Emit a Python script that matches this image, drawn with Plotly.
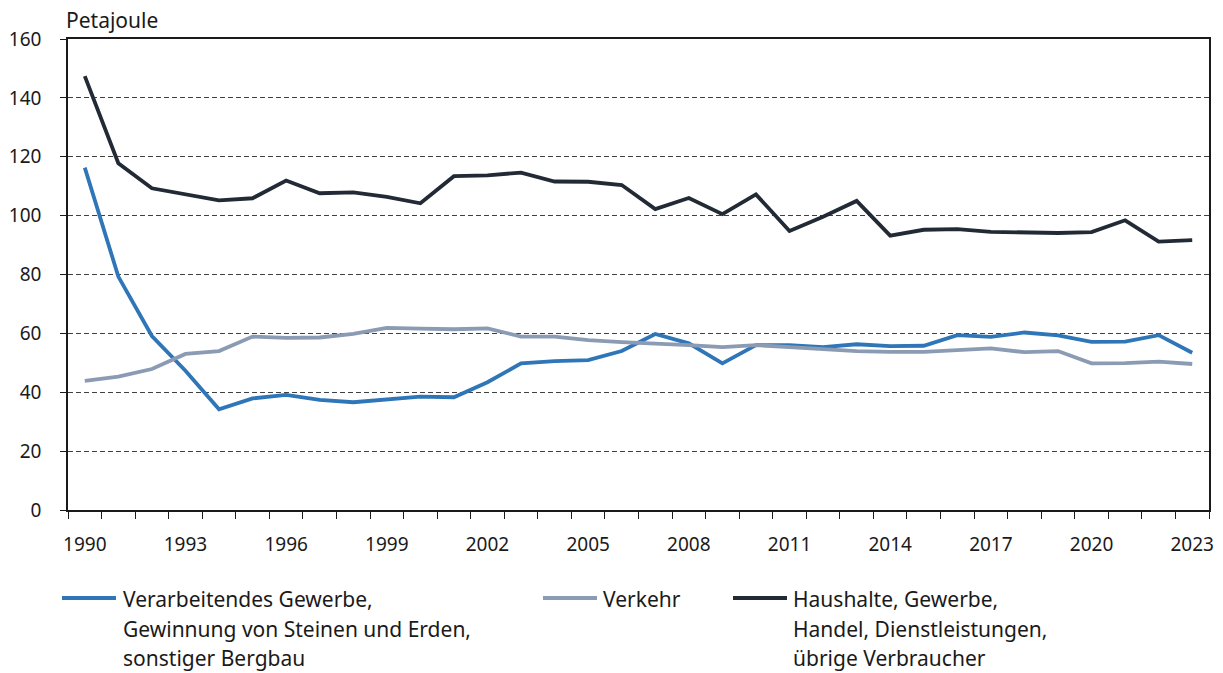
import plotly.graph_objects as go

years = list(range(1990, 2024))

verarbeitendes = [116.3, 79.3, 59.1, 47.3, 34.2, 37.9, 39.1, 37.4, 36.6, 37.6,
                  38.5, 38.3, 43.4, 49.8, 50.6, 50.9, 54.0, 59.8, 56.6, 49.8,
                  56.0, 56.0, 55.3, 56.3, 55.7, 55.8, 59.4, 58.8, 60.3, 59.3,
                  57.1, 57.2, 59.4, 53.4]
verkehr = [43.9, 45.3, 47.9, 53.0, 54.0, 58.9, 58.5, 58.6, 59.8, 61.9,
           61.6, 61.4, 61.7, 58.9, 58.9, 57.7, 57.0, 56.6, 56.0, 55.3,
           56.0, 55.3, 54.6, 54.0, 53.7, 53.7, 54.3, 54.9, 53.6, 54.0,
           49.8, 49.9, 50.4, 49.6]
haushalte = [147.4, 117.8, 109.3, 107.2, 105.2, 105.9, 111.9, 107.6, 107.9, 106.4,
             104.2, 113.4, 113.7, 114.6, 111.6, 111.5, 110.4, 102.2, 106.0, 100.5,
             107.2, 94.8, 99.6, 105.0, 93.2, 95.2, 95.4, 94.5, 94.2, 94.1,
             94.4, 98.4, 91.2, 91.7]

tick_years = list(range(1990, 2024, 3))
y_ticks = [0, 20, 40, 60, 80, 100, 120, 140, 160]

series = [
    ("Verarbeitendes Gewerbe,<br>Gewinnung von Steinen und Erden,<br>sonstiger Bergbau", verarbeitendes, "#2f76b8"),
    ("Verkehr", verkehr, "#8a9bb3"),
    ("Haushalte, Gewerbe,<br>Handel, Dienstleistungen,<br>übrige Verbraucher", haushalte, "#222a35"),
]

FONT = "Noto Sans"
FS = 19      # tick labels
FL = 21      # legend / unit label
TXT = "#1a1a1a"

OFF = 8  # page body margin
W, H = 1223 - OFF, 673 - OFF
ML, MR, MT, MB = 68 - OFF, 14, 39 - OFF, 163
PW, PH = W - ML - MR, H - MT - MB

fig = go.Figure()
for name, vals, col in series:
    fig.add_trace(go.Scatter(x=years, y=vals, mode="lines", name=name,
                             line=dict(color=col, width=3.8), showlegend=False))

def px2paper(px, py):
    # screen pixel -> paper coords
    return (px - OFF - ML) / PW, (H + OFF - MB - py) / PH

legend_pos = [(62, 116, 121), (543, 597, 601), (733, 787, 791)]
line_y = [599, 629, 658]
annotations = []
shapes = []
for (name, vals, col), (x0, x1, tx) in zip(series, legend_pos):
    a0, b = px2paper(x0, line_y[0] - 1)
    a1, _ = px2paper(x1, line_y[0] - 1)
    shapes.append(dict(type="line", xref="paper", yref="paper", x0=a0, x1=a1, y0=b, y1=b,
                       line=dict(color=col, width=4)))
    for i, part in enumerate(name.split("<br>")):
        ax, ay = px2paper(tx, line_y[i])
        annotations.append(dict(text=part, xref="paper", yref="paper", x=ax, y=ay,
                                xanchor="left", yanchor="middle", showarrow=False,
                                font=dict(family=FONT, size=FL, color=TXT)))

annotations.append(dict(text="Petajoule", xref="paper", yref="paper", x=0, y=1,
                        xanchor="left", yanchor="bottom", yshift=3, xshift=-4, showarrow=False,
                        font=dict(family=FONT, size=FL, color=TXT)))

fig.update_layout(
    width=W, height=H,
    margin=dict(l=ML, r=MR, t=MT, b=MB, autoexpand=False),
    plot_bgcolor="white", paper_bgcolor="white",
    font=dict(family=FONT, size=FS, color=TXT),
    annotations=annotations, shapes=shapes,
    xaxis=dict(range=[1989.5, 2023.5], tickvals=tick_years, ticktext=[str(y) for y in tick_years],
               ticks="", showgrid=False, showline=True, linecolor=TXT, linewidth=1.5,
               mirror=True, zeroline=False, ticklabelstandoff=16, automargin=False,
               minor=dict(tick0=1989.5, dtick=1, ticks="outside", ticklen=7,
                          tickcolor=TXT, tickwidth=1.2, showgrid=False)),
    yaxis=dict(range=[0, 160], tickvals=y_ticks, ticks="outside", ticklen=6,
               tickcolor=TXT, tickwidth=1.2, automargin=False,
               showline=True, linecolor=TXT, linewidth=1.5, mirror=True,
               showgrid=True, gridcolor="#404040", gridwidth=1, griddash="5px,3px",
               zeroline=False, ticklabelstandoff=15),
)

fig.write_html("out.html")
